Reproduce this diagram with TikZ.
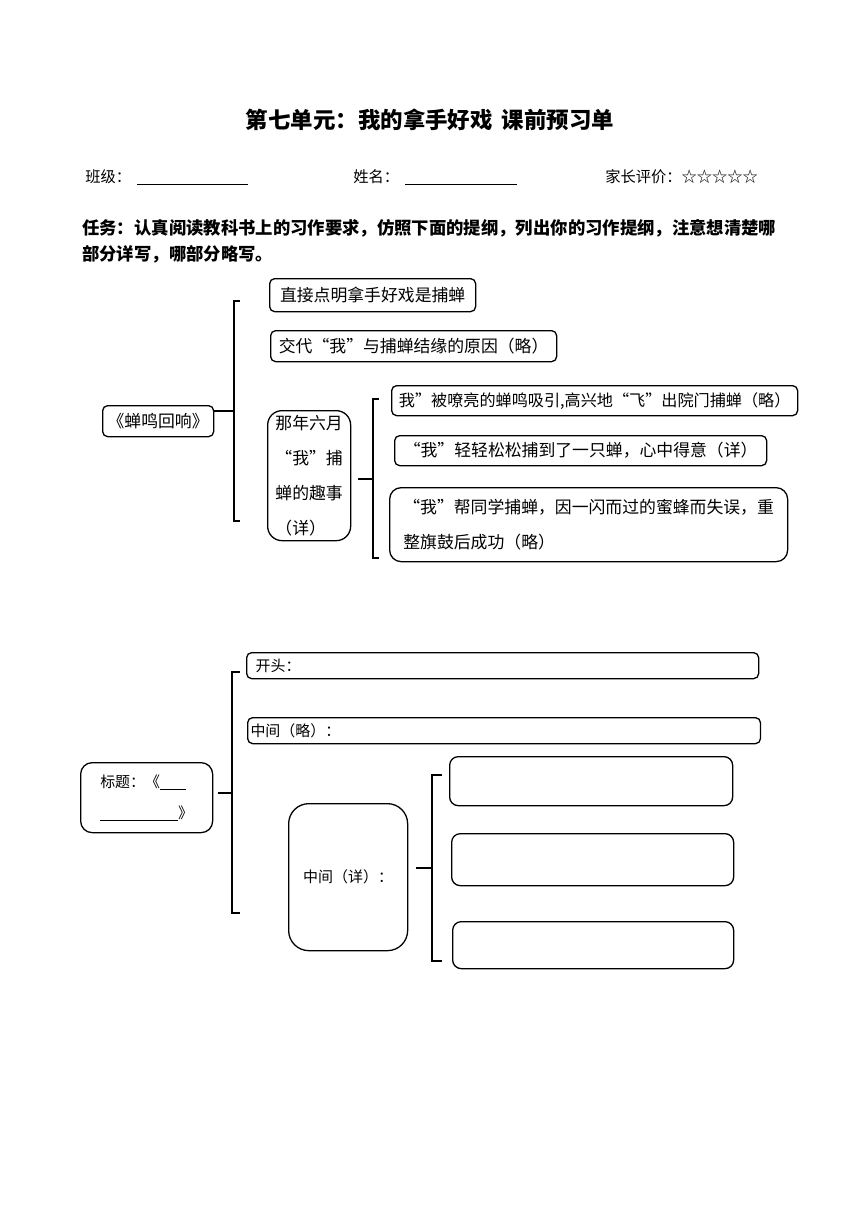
\documentclass[tikz,border=0pt]{standalone}
\usepackage{fontspec}
\setmainfont{Noto Sans CJK SC}
\usepackage{tikz}
\usetikzlibrary{positioning}

\begin{document}
\begin{tikzpicture}[x=0.024419cm, y=-0.024419cm,
    px/.style 2 args={minimum width=#1*0.024419cm, minimum height=#2*0.024419cm},
    tbox/.style={draw, line width=0.9pt, rounded corners=3.5pt, anchor=north west,
                 inner sep=0pt, font=\fontsize{11.7}{24.3}\selectfont},
    fbox/.style={tbox, font=\fontsize{10.4}{22}\selectfont},
    hd/.style={anchor=west, inner sep=0pt, font=\fontsize{10.6}{12}\selectfont},
    task/.style={anchor=west, inner sep=0pt, font=\fontsize{12.05}{14}\selectfont\bfseries},
    brk/.style={line width=0.9pt}
  ]
    \useasboundingbox (0,0) rectangle (860,1216);
    \node[font=\fontsize{15.6}{18}\selectfont\bfseries] (title) at (430,120)
      {第七单元：我的拿手好戏\hspace{0.4em}课前预习单};
    \node[hd] (cls) at (85,177) {班级：\hspace{0.15cm}\rule[-0.15em]{2.71cm}{0.5pt}};
    \node[hd] (name) at (353,177) {姓名：\hspace{0.15cm}\rule[-0.15em]{2.73cm}{0.5pt}};
    \node[hd] (eval) at (605,177) {家长评价：☆☆☆☆☆};
    \node[task] (task1) at (82,228) {任务：认真阅读教科书上的习作要求，仿照下面的提纲，列出你的习作提纲，注意想清楚哪};
    \node[task] (task2) at (82,254) {部分详写，哪部分略写。};

    % sample outline
    \node[tbox, px={111}{31}] (root) at (102,405) {《蝉鸣回响》};
    \node[tbox, px={206}{33}] (intro) at (269,278) {直接点明拿手好戏是捕蝉};
    \node[tbox, px={286}{31}] (cause) at (270,330) {交代“我”与捕蝉结缘的原因（略）};
    \node[tbox, px={83}{130}, rounded corners=10pt, align=left] (story) at (267,410)
      {那年六月\\“我”捕\\蝉的趣事\\（详）};
    \node[tbox, px={406}{30}, font=\fontsize{11.2}{14}\selectfont] (s1) at (391,385)
      {我”被嘹亮的蝉鸣吸引,高兴地“飞”出院门捕蝉（略）};
    \node[tbox, px={372}{30}] (s2) at (394,435) {“我”轻轻松松捕到了一只蝉，心中得意（详）};
    \node[tbox, px={398}{74}, rounded corners=8pt, align=left] (s3) at (389,487)
      {“我”帮同学捕蝉，因一闪而过的蜜蜂而失误，重\\整旗鼓后成功（略）};

    \coordinate (j1) at (234,411);
    \coordinate (b1t) at (234,301);
    \coordinate (b1b) at (234,521);
    \draw[brk] (root.east |- j1) -- (j1);
    \draw[brk] (b1t) ++(6,0) -- (b1t) -- (b1b) -- ++(6,0);
    \coordinate (j2) at (373,479);
    \coordinate (b2t) at (373,399);
    \coordinate (b2b) at (373,558);
    \draw[brk] (j2) -- ++(-15,0);
    \draw[brk] (b2t) ++(6,0) -- (b2t) -- (b2b) -- ++(6,0);

    % blank outline
    \node[fbox, px={132}{70}, rounded corners=8pt, align=left] (head) at (80,762)
      {标题：《\rule[-0.15em]{0.63cm}{0.5pt}\\\rule[-0.15em]{1.9cm}{0.5pt}》};
    \node[fbox, minimum height=0.635cm, text width=12.06cm, inner xsep=0.22cm, align=left] (open) at (246,652) {开头：};
    \node[fbox, minimum height=0.635cm, text width=12.38cm, inner xsep=0.07cm, align=left] (brief) at (247,717) {中间（略）：};
    \node[fbox, px={119}{147}, rounded corners=14pt] (mid) at (288,803) {中间（详）：};
    \node[fbox, px={283}{49}, rounded corners=6pt] (m1) at (449,756) {};
    \node[fbox, px={282}{52}, rounded corners=6pt] (m2) at (451,833) {};
    \node[fbox, px={281}{47}, rounded corners=6pt] (m3) at (452,921) {};

    \coordinate (j3) at (232,793);
    \coordinate (b3t) at (232,672);
    \coordinate (b3b) at (232,913);
    \draw[brk] (j3) -- ++(-14,0);
    \draw[brk] (b3t) ++(8,0) -- (b3t) -- (b3b) -- ++(8,0);
    \coordinate (j4) at (432,868);
    \coordinate (b4t) at (432,775);
    \coordinate (b4b) at (432,961);
    \draw[brk] (j4) -- ++(-16,0);
    \draw[brk] (b4t) ++(10,0) -- (b4t) -- (b4b) -- ++(10,0);
\end{tikzpicture}
\end{document}
